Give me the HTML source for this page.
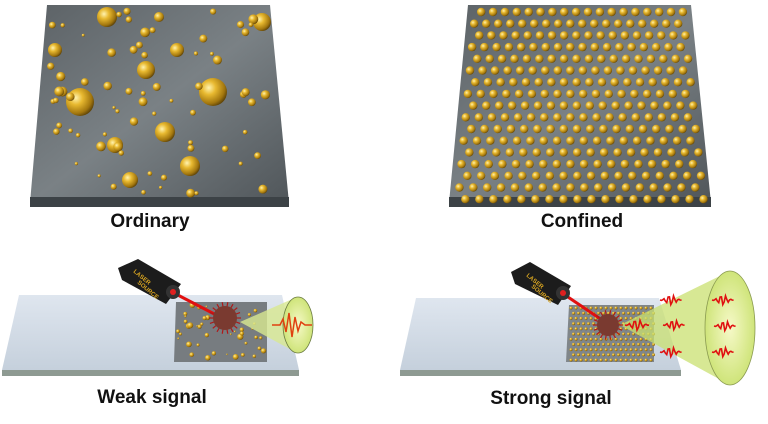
<!DOCTYPE html>
<html><head><meta charset="utf-8"><style>
html,body{margin:0;padding:0;background:#fff;}
svg{display:block;}
text{font-family:"Liberation Sans",sans-serif;font-weight:bold;fill:#111;}
</style></head><body>
<svg id="s" width="768" height="424" viewBox="0 0 768 424" xmlns="http://www.w3.org/2000/svg">
<defs>
<radialGradient id="g" cx="0.35" cy="0.35" r="0.7">
<stop offset="0" stop-color="#fff3b0"/><stop offset="0.35" stop-color="#e8b930"/><stop offset="0.8" stop-color="#a2760e"/><stop offset="1" stop-color="#5e4308"/>
</radialGradient>
<linearGradient id="plate" x1="0" y1="0" x2="1" y2="1">
<stop offset="0" stop-color="#5c6266"/><stop offset="0.5" stop-color="#7a8185"/><stop offset="1" stop-color="#50565a"/>
</linearGradient>
<linearGradient id="slide" x1="0" y1="0" x2="0" y2="1">
<stop offset="0" stop-color="#dfe6ef"/><stop offset="1" stop-color="#c5d0dc"/>
</linearGradient>
<radialGradient id="cone" cx="0.5" cy="0.5" r="0.6">
<stop offset="0" stop-color="#f6f9c8"/><stop offset="1" stop-color="#c7e06a"/>
</radialGradient>
</defs>
<polygon points="47,5 270,5 289,203 30,203" fill="url(#plate)"/>
<polygon points="30,197 289,197 289,207 30,207" fill="#3c4246"/>
<polygon points="468,5 691,5 711,203 449,203" fill="url(#plate)"/>
<polygon points="449,197 711,197 711,207 449,207" fill="#3c4246"/>
<g id="dotsL"></g><g id="dotsR"></g>
<text x="150" y="227" font-size="19" text-anchor="middle">Ordinary</text>
<text x="582" y="227" font-size="19" text-anchor="middle">Confined</text>
<polygon points="19,295 282,295 299,370 2,370" fill="url(#slide)"/>
<polygon points="2,370 299,370 299,376 2,376" fill="#8e9a92"/>
<polygon points="176,302 267,302 267,362 174,362" fill="#777c80"/>
<g id="dotsBL"></g>
<polygon points="416,298 659,298 681,370 400,370" fill="url(#slide)"/>
<polygon points="400,370 681,370 681,376 400,376" fill="#8e9a92"/>
<polygon points="569,305 654,305 654,362 566,362" fill="#80868a"/>
<g id="dotsBR"></g>
<g>
<line x1="172" y1="292" x2="222" y2="318" stroke="#e01010" stroke-width="3"/>
<polygon points="118,268 138,259 181,284 166,304 122,280" fill="#1c1c1c"/>
<circle cx="173" cy="292" r="7" fill="#333"/><circle cx="173" cy="292" r="3" fill="#e02020"/>
<text x="133" y="272" font-size="6" style="fill:#d9a520" transform="rotate(40 133 272)">LASER</text>
<text x="137" y="283" font-size="6" style="fill:#d9a520" transform="rotate(40 137 283)">SOURCE</text>
</g>
<g>
<line x1="562" y1="293" x2="605" y2="322" stroke="#e01010" stroke-width="3"/>
<polygon points="511,272 530,262 571,286 558,305 515,284" fill="#1c1c1c"/>
<circle cx="563" cy="293" r="7" fill="#333"/><circle cx="563" cy="293" r="3" fill="#e02020"/>
<text x="526" y="276" font-size="6" style="fill:#d9a520" transform="rotate(40 526 276)">LASER</text>
<text x="531" y="287" font-size="6" style="fill:#d9a520" transform="rotate(40 531 287)">SOURCE</text>
</g>
<polygon points="240,322 297,297 297,353" fill="#d8e890" opacity="0.8"/>
<ellipse cx="298" cy="325" rx="15" ry="28" fill="url(#cone)" stroke="#6a7a40" stroke-width="0.8"/>
<polyline points="272,325 280,325 283,319 286,332 289,313 292,337 295,317 298,331 301,322 305,325 312,325" fill="none" stroke="#e04010" stroke-width="1.5"/>
<polygon points="620,325 728,272 730,385" fill="#c9e070" opacity="0.75"/>
<ellipse cx="730" cy="328" rx="25" ry="57" fill="url(#cone)" stroke="#8a9a50" stroke-width="0.8"/>
<g id="waves" fill="none" stroke="#e01010" stroke-width="1.6"></g>
<g id="vir"></g>
<text x="152" y="403" font-size="19" text-anchor="middle">Weak signal</text>
<text x="551" y="404" font-size="19" text-anchor="middle">Strong signal</text>
</svg>
<script>
var NS="http://www.w3.org/2000/svg";
function c(g,x,y,r){var e=document.createElementNS(NS,"circle");e.setAttribute("cx",x);e.setAttribute("cy",y);e.setAttribute("r",r);e.setAttribute("fill","url(#g)");document.getElementById(g).appendChild(e);}
var seed=7;function rnd(){seed=(seed*9301+49297)%233280;return seed/233280;}
var big=[[107,17,10],[213,92,14],[80,102,14],[146,70,9],[165,132,10],[262,22,9],[159,17,5],[55,50,7],[177,50,7],[190,166,10],[130,180,8],[115,145,8]];
big.forEach(function(b){c("dotsL",b[0],b[1],b[2]);});
for(var i=0;i<70;i++){var y=10+rnd()*185;var f=y/200;var x=50-18*f+rnd()*(215+35*f);c("dotsL",x,y,1.5+rnd()*3.5);}
for(var r=0;r<17;r++){for(var k=0;k<19;k++){var y=12+r*11.7;var f=(y-5)/198;var l=470-19*f,w=218+42*f;var x=l+((k+(r%2)*0.5)/18.5)*w;if(x<l+2||x>l+w-2)continue;c("dotsR",x,y,4.2);}}
for(var i=0;i<45;i++){c("dotsBL",178+rnd()*86,305+rnd()*54,0.8+rnd()*2.4);}
for(var r=0;r<11;r++)for(var k=0;k<17;k++){c("dotsBR",571+k*5+(r%2)*2.5,308+r*5.2,1.5);}
function wave(x,y,s){var p="";for(var i=0;i<=16;i++){var xx=x+i*s*1.5;var a=Math.sin(i*1.7)*s*6*Math.exp(-Math.pow(i-8,2)/18);p+=xx+","+(y+a)+" ";}var e=document.createElementNS(NS,"polyline");e.setAttribute("points",p);document.getElementById("waves").appendChild(e);}
wave(625,325,1);wave(660,300,0.9);wave(663,325,0.9);wave(660,352,0.9);wave(712,300,0.9);wave(714,326,0.9);wave(712,352,0.9);
function virus(x,y,r){var g=document.getElementById("vir");for(var i=0;i<18;i++){var a=i*Math.PI/9;var l=document.createElementNS(NS,"line");l.setAttribute("x1",x);l.setAttribute("y1",y);l.setAttribute("x2",x+Math.cos(a)*(r+4));l.setAttribute("y2",y+Math.sin(a)*(r+4));l.setAttribute("stroke","#b01818");l.setAttribute("stroke-width","1.2");g.appendChild(l);}
var e=document.createElementNS(NS,"circle");e.setAttribute("cx",x);e.setAttribute("cy",y);e.setAttribute("r",r);e.setAttribute("fill","#7a3a30");g.appendChild(e);}
virus(225,318,12);virus(608,325,11);
</script>
</body></html>
